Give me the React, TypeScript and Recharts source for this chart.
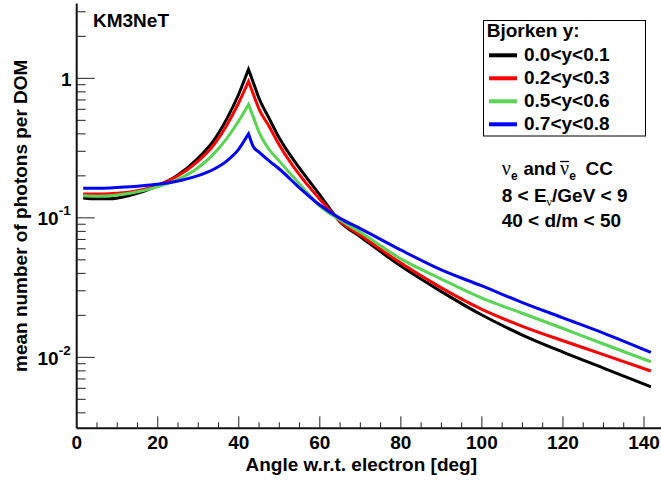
import React from "react";
import { LineChart, Line, XAxis, YAxis } from "recharts";

const angles = [1.6, 5, 8.2, 13.2, 19.7, 24.7, 29.6, 33.7, 37.0, 39.9, 42.4, 43.6, 45, 47.5, 50, 55, 60, 65, 70, 80, 90, 100, 110, 120, 130, 141.7];
const y0001 = [0.139, 0.137, 0.137, 0.145, 0.168, 0.2, 0.262, 0.355, 0.51, 0.76, 1.16, 0.93, 0.72, 0.516, 0.373, 0.227, 0.146, 0.0936, 0.0732, 0.0451, 0.0296, 0.0201, 0.01445, 0.0109, 0.00838, 0.00615];
const y0203 = [0.148, 0.148, 0.149, 0.153, 0.17, 0.198, 0.25, 0.33, 0.46, 0.66, 0.95, 0.768, 0.602, 0.452, 0.333, 0.203, 0.136, 0.0945, 0.075, 0.0474, 0.0315, 0.0221, 0.0167, 0.01315, 0.01047, 0.00798];
const y0506 = [0.144, 0.143, 0.144, 0.15, 0.166, 0.187, 0.225, 0.285, 0.37, 0.49, 0.65, 0.527, 0.412, 0.309, 0.255, 0.175, 0.1215, 0.0964, 0.0788, 0.0508, 0.0364, 0.0266, 0.0207, 0.0161, 0.01246, 0.0093];
const y0708 = [0.163, 0.163, 0.164, 0.167, 0.174, 0.183, 0.199, 0.222, 0.255, 0.308, 0.4, 0.323, 0.296, 0.256, 0.224, 0.164, 0.1235, 0.0991, 0.0838, 0.0588, 0.0423, 0.0325, 0.0247, 0.0192, 0.01494, 0.01086];

const seriesNames = ["0.0<y<0.1", "0.2<y<0.3", "0.5<y<0.6", "0.7<y<0.8"];
const seriesKeys = ["s1", "s2", "s3", "s4"];
const seriesColors = ["#000000", "#ff0000", "#59d454", "#0000ff"];
const seriesValues = [y0001, y0203, y0506, y0708];

const xTicks = [0, 5, 10, 15, 20, 25, 30, 35, 40, 45, 50, 55, 60, 65, 70, 75, 80, 85, 90, 95, 100, 105, 110, 115, 120, 125, 130, 135, 140, 145];
const yTicks = [0.004, 0.005, 0.006, 0.007, 0.008, 0.009, 0.01, 0.02, 0.03, 0.04, 0.05, 0.06, 0.07, 0.08, 0.09, 0.1, 0.2, 0.3, 0.4, 0.5, 0.6, 0.7, 0.8, 0.9, 1, 2, 3];

const data = angles.map((a, i) => {
  const row: any = { angle: a };
  seriesKeys.forEach((k, j) => {
    row[k] = seriesValues[j][i];
  });
  return row;
});

const FONT = "'Liberation Sans', Arial, Helvetica, sans-serif";
const GREEK = "'Liberation Serif', 'Times New Roman', serif";

// Monotone cubic curve that keeps a sharp cusp at local extrema.
function cuspMonotone(context: any) {
  let xs: number[] = [];
  let ys: number[] = [];
  return {
    areaStart() {},
    areaEnd() {},
    lineStart() {
      xs = [];
      ys = [];
    },
    point(x: number, y: number) {
      xs.push(+x);
      ys.push(+y);
    },
    lineEnd() {
      const n = xs.length;
      if (n === 0) return;
      context.moveTo(xs[0], ys[0]);
      if (n === 1) return;
      if (n === 2) {
        context.lineTo(xs[1], ys[1]);
        return;
      }
      const s: number[] = [];
      for (let i = 0; i < n - 1; i++) s.push((ys[i + 1] - ys[i]) / (xs[i + 1] - xs[i]));
      const mIn: number[] = new Array(n);
      const mOut: number[] = new Array(n);
      for (let i = 1; i < n - 1; i++) {
        const s0 = s[i - 1];
        const s1 = s[i];
        if (s0 * s1 < 0) {
          mIn[i] = s0;
          mOut[i] = s1;
        } else {
          const h0 = xs[i] - xs[i - 1];
          const h1 = xs[i + 1] - xs[i];
          const p = (s0 * h1 + s1 * h0) / (h0 + h1);
          const m = (Math.sign(s0) + Math.sign(s1)) * Math.min(Math.abs(s0), Math.abs(s1), 0.5 * Math.abs(p));
          mIn[i] = m;
          mOut[i] = m;
        }
      }
      const e0 = (3 * s[0] - mOut[1]) / 2;
      mIn[0] = mOut[0] = e0;
      const e1 = (3 * s[n - 2] - mIn[n - 2]) / 2;
      mIn[n - 1] = mOut[n - 1] = e1;
      for (let i = 0; i < n - 1; i++) {
        const dx = (xs[i + 1] - xs[i]) / 3;
        context.bezierCurveTo(
          xs[i] + dx,
          ys[i] + mOut[i] * dx,
          xs[i + 1] - dx,
          ys[i + 1] - mIn[i + 1] * dx,
          xs[i + 1],
          ys[i + 1]
        );
      }
    },
  };
}

const XTick = (props: any) => {
  const { x, y, payload } = props;
  const v = payload.value;
  const major = v % 20 === 0;
  return (
    <g>
      <line x1={x} x2={x} y1={y} y2={y - (major ? 12 : 6)} stroke="#222" strokeWidth={1} />
      {major && (
        <text x={x} y={y + 21} textAnchor="middle" fontFamily={FONT} fontWeight="bold" fontSize={19} fill="#000">
          {v}
        </text>
      )}
    </g>
  );
};

const YTick = (props: any) => {
  const { x, y, payload } = props;
  const v = payload.value;
  const lg = Math.log10(v);
  const exp = Math.round(lg);
  const major = Math.abs(lg - exp) < 1e-6;
  return (
    <g>
      <line x1={x} x2={x + (major ? 18 : 9)} y1={y} y2={y} stroke="#222" strokeWidth={1} />
      {major && exp === 0 && (
        <text x={x - 5} y={y + 7.5} textAnchor="end" fontFamily={FONT} fontWeight="bold" fontSize={19} fill="#000">
          1
        </text>
      )}
      {major && exp !== 0 && (
        <text x={x - 6} y={y + 7.5} textAnchor="end" fontFamily={FONT} fontWeight="bold" fontSize={19} fill="#000">
          10
          <tspan fontSize={13.5} dy={-10}>{String(exp)}</tspan>
        </text>
      )}
    </g>
  );
};

export default function App() {
  const legendY0 = 55.3;
  const legendDy = 23;
  return (
    <div style={{ position: "absolute", left: 0, top: 0, width: 661, height: 484, overflow: "hidden", background: "#fff" }}>
      <LineChart width={669} height={484} data={data} margin={{ top: 3.5, right: 0.7, bottom: 0, left: 0 }}>
        <XAxis
          xAxisId="top"
          orientation="top"
          type="number"
          dataKey="angle"
          domain={[0, 146]}
          height={0}
          tick={false}
          tickLine={false}
          axisLine={{ stroke: "#333", strokeWidth: 2 }}
        />
        <XAxis
          type="number"
          dataKey="angle"
          domain={[0, 146]}
          allowDataOverflow
          ticks={xTicks}
          interval={0}
          tickSize={0}
          tickMargin={0}
          tickLine={false}
          tick={<XTick />}
          height={55.7}
          axisLine={{ stroke: "#111", strokeWidth: 2 }}
        />
        <YAxis
          type="number"
          scale="log"
          domain={[0.0031, 3.44]}
          allowDataOverflow
          ticks={yTicks}
          interval={0}
          tickSize={0}
          tickMargin={0}
          tickLine={false}
          tick={<YTick />}
          width={76.7}
          axisLine={{ stroke: "#111", strokeWidth: 2 }}
        />
        {seriesKeys.map((k, j) => (
          <Line
            key={k}
            dataKey={k}
            name={seriesNames[j]}
            type={cuspMonotone as any}
            stroke={seriesColors[j]}
            strokeWidth={3}
            dot={false}
            isAnimationActive={false}
          />
        ))}
      </LineChart>
      <svg
        width={661}
        height={484}
        style={{ position: "absolute", left: 0, top: 0, pointerEvents: "none" }}
        fontFamily={FONT}
        fontWeight="bold"
        fontSize={19}
      >
        <text x={93} y={27.3}>KM3NeT</text>
        <text x={27} y={215.8} textAnchor="middle" transform="rotate(-90 27 215.8)">
          mean number of photons per DOM
        </text>
        <text x={477} y={471} textAnchor="end">Angle w.r.t. electron [deg]</text>
        <rect x={483.5} y={20.5} width={162} height={115.5} fill="#fff" stroke="#000" strokeWidth={1} />
        <text x={486.7} y={37}>Bjorken y:</text>
        {seriesNames.map((n, j) => (
          <g key={n}>
            <line x1={489} x2={517} y1={legendY0 + j * legendDy} y2={legendY0 + j * legendDy} stroke={seriesColors[j]} strokeWidth={4} />
            <text x={524} y={61 + j * legendDy}>{n}</text>
          </g>
        ))}
        <text x={501.7} y={175} fontWeight="normal" fontFamily={GREEK} fontSize={20}>ν</text>
        <text x={511} y={180} fontSize={12}>e</text>
        <text x={523.5} y={175} fontSize={18.5}>and</text>
        <text x={560} y={175} fontWeight="normal" fontFamily={GREEK} fontSize={20}>ν</text>
        <line x1={560} x2={569} y1={161.5} y2={161.5} stroke="#000" strokeWidth={1.3} />
        <text x={569.3} y={180} fontSize={12}>e</text>
        <text x={585.5} y={175}>CC</text>
        <text x={501.7} y={201.7}>
          8 &lt; E<tspan fontSize={12} dy={4} fontWeight="normal" fontFamily={GREEK}>ν</tspan>
          <tspan dy={-4}>/GeV &lt; 9</tspan>
        </text>
        <text x={501.7} y={226.7}>40 &lt; d/m &lt; 50</text>
      </svg>
    </div>
  );
}
